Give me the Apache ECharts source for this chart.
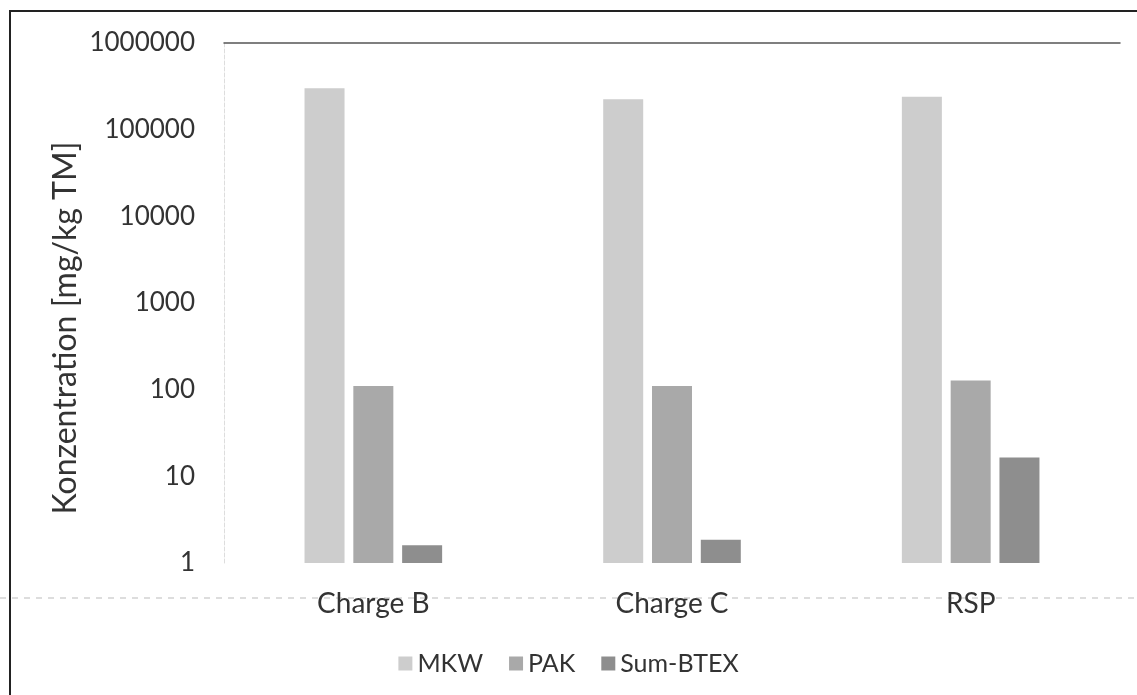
<!DOCTYPE html>
<html><head><meta charset="utf-8">
<script src="https://cdn.jsdelivr.net/npm/echarts@6/dist/echarts.min.js"></script>
<style>html,body{margin:0;padding:0;background:#fff}#c{width:1137px;height:695px}</style>
</head><body><div id="c"></div>
<script>
var categories = ['Charge B', 'Charge C', 'RSP'];
var seriesNames = ['MKW', 'PAK', 'Sum-BTEX'];
var mkw = [300000, 225000, 240000];
var pak = [110, 110, 128];
var btex = [1.6, 1.85, 16.5];
var yTicks = [1, 10, 100, 1000, 10000, 100000, 1000000];
var colors = ['#cdcdcd', '#a9a9a9', '#8e8e8e'];
var font = 'Lato, "Open Sans", sans-serif';

var chart = echarts.init(document.getElementById('c'));
var values = [mkw, pak, btex];
chart.setOption({
  animation: false,
  backgroundColor: '#fff',
  color: colors,
  grid: {left: 224, right: 17, top: 43, bottom: 132},
  legend: {
    data: seriesNames, top: 646, left: 'center',
    itemWidth: 14, itemHeight: 14, itemGap: 26,
    icon: 'rect',
    textStyle: {fontFamily: font, fontSize: 25, color: '#333'}
  },
  xAxis: [{
    type: 'category', data: categories,
    axisLine: {show: false}, axisTick: {show: false},
    axisLabel: {fontFamily: font, fontSize: 28, color: '#333', margin: 27}
  }, {
    type: 'category', data: categories, position: 'top',
    axisLine: {show: true, lineStyle: {color: '#555', width: 1.5}},
    axisTick: {show: false}, axisLabel: {show: false}
  }],
  yAxis: {
    type: 'log', logBase: 10, min: yTicks[0], max: yTicks[yTicks.length - 1],
    axisLine: {show: true, lineStyle: {color: '#ddd', type: 'dashed'}},
    axisTick: {show: false}, splitLine: {show: false},
    axisLabel: {fontFamily: font, fontSize: 26, color: '#333', margin: 29,
      formatter: function (v) { return String(v); }}
  },
  series: seriesNames.map(function (n, i) {
    return {
      name: n, type: 'bar', data: values[i],
      barWidth: 40, barGap: '22%',
      itemStyle: {color: colors[i]}
    };
  }),
  graphic: [
    {type: 'rect', shape: {x: 10, y: 11, width: 1140, height: 700},
     style: {fill: 'none', stroke: '#222', lineWidth: 2}},
    {type: 'line', shape: {x1: 0, y1: 598, x2: 1137, y2: 598},
     style: {stroke: '#bbb', lineWidth: 1, lineDash: [6, 6]}},
    {type: 'text', x: 66, y: 328, rotation: Math.PI / 2,
     style: {text: 'Konzentration [mg/kg TM]', fontFamily: font, fontSize: 32,
             fill: '#333', align: 'center', verticalAlign: 'middle'}}
  ]
});
</script></body></html>
